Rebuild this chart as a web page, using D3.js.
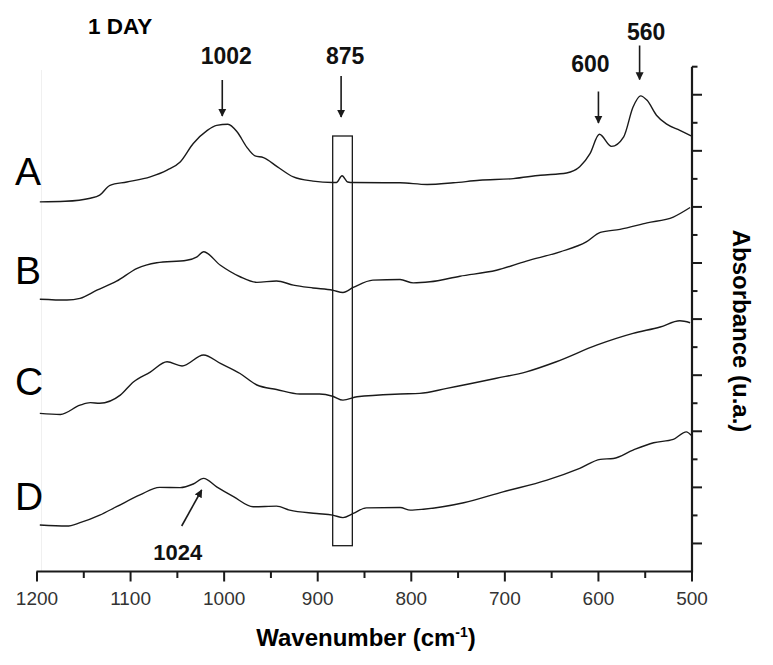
<!DOCTYPE html>
<html>
<head>
<meta charset="utf-8">
<script src="https://cdn.jsdelivr.net/npm/d3@7"></script>
<style>
  html, body { margin: 0; padding: 0; background: #fff; }
  svg { display: block; }
</style>
</head>
<body>
<svg id="chart" width="773" height="665"></svg>
<script>
// ---------- data (wavenumber cm-1, absorbance a.u.) ----------
const seriesNames = ["A", "B", "C", "D"];

const wnA = [1197,1170,1143,1133,1122,1104,1079,1061,1047,1033,1018,1008,996,986,976,967,958,943,926,905,884,880,874,868,862,812,783,755,727,691,662,634,620,609,599,586,573,563,555,548,538,527,513,501];
const absA = [1.318,1.320,1.331,1.342,1.377,1.389,1.407,1.431,1.460,1.526,1.573,1.591,1.595,1.567,1.514,1.482,1.476,1.443,1.407,1.392,1.387,1.387,1.411,1.389,1.387,1.386,1.380,1.386,1.395,1.401,1.413,1.421,1.443,1.490,1.559,1.516,1.550,1.656,1.696,1.680,1.627,1.595,1.573,1.553];

const wnB = [1197,1168,1154,1136,1115,1093,1072,1040,1029,1022,1004,983,965,944,926,905,884,873,862,841,812,798,780,748,709,677,641,613,598,577,548,520,502];
const absB = [0.971,0.968,0.974,1.003,1.035,1.081,1.101,1.110,1.122,1.140,1.092,1.051,1.031,1.036,1.021,1.011,1.003,0.995,1.013,1.039,1.041,1.029,1.033,1.053,1.074,1.107,1.140,1.175,1.209,1.220,1.243,1.264,1.298];

const wnC = [1197,1175,1154,1143,1133,1111,1097,1079,1061,1045,1022,1004,983,965,944,919,898,884,873,858,812,791,762,709,677,645,602,563,534,513,502];
const absC = [0.564,0.560,0.593,0.602,0.600,0.629,0.676,0.711,0.748,0.733,0.772,0.742,0.706,0.665,0.649,0.633,0.633,0.625,0.611,0.623,0.633,0.635,0.653,0.689,0.712,0.748,0.807,0.849,0.872,0.894,0.887];

const wnD = [1197,1168,1154,1133,1115,1090,1069,1047,1033,1022,1008,990,969,944,930,901,884,873,862,848,812,801,787,744,702,655,620,598,584,563,541,520,506,501];
const absD = [0.166,0.162,0.174,0.201,0.231,0.273,0.300,0.299,0.312,0.332,0.302,0.267,0.231,0.233,0.219,0.207,0.201,0.192,0.207,0.227,0.228,0.219,0.222,0.245,0.284,0.326,0.368,0.400,0.403,0.433,0.459,0.471,0.498,0.486];

const xTickLabels = [1200,1100,1000,900,800,700,600,500];
const peakLabels = ["1002","875","600","560"];
const peakPositions = [1002,875,600,556];
const lowerPeakLabel = "1024";
const lowerPeakPosition = 1024;
const boxRange = [884, 863];
const titleText = "1 DAY";
const xTitle = "Wavenumber (cm";
const yTitle = "Absorbance (u.a.)";

// ---------- scales ----------
const svg = d3.select("#chart");
const x = d3.scaleLinear().domain([1200, 500]).range([37, 692]);
const y = d3.scaleLinear().domain([0, 1.8]).range([571.5, 66.7]);

const ink = "#1a1a1a";

// faint left guide
svg.append("line").attr("x1", 41.5).attr("x2", 41.5).attr("y1", 70).attr("y2", 571)
  .attr("stroke", "#f0f0f0").attr("stroke-width", 1);

// ---------- curves ----------
const series = [
  {name: "A", wn: wnA, ab: absA},
  {name: "B", wn: wnB, ab: absB},
  {name: "C", wn: wnC, ab: absC},
  {name: "D", wn: wnD, ab: absD}
];
const line = d3.line().x(d => x(d[0])).y(d => y(d[1])).curve(d3.curveMonotoneX);
series.forEach(s => {
  const pts = s.wn.map((w, i) => [w, s.ab[i]]);
  svg.append("path").datum(pts).attr("d", line)
    .attr("fill", "none").attr("stroke", ink).attr("stroke-width", 1.4)
    .attr("stroke-linejoin", "round");
});

// series letters
const letterY = [185, 284, 395, 509.5];
seriesNames.forEach((n, i) => {
  svg.append("text").text(n).attr("x", 15).attr("y", letterY[i])
    .attr("font-family", "Liberation Sans, Arial, sans-serif")
    .attr("font-size", 39).attr("fill", "#000");
});

// ---------- box around 875 ----------
svg.append("rect")
  .attr("x", x(boxRange[0])).attr("y", 136)
  .attr("width", x(boxRange[1]) - x(boxRange[0])).attr("height", 545.7 - 136)
  .attr("fill", "none").attr("stroke", ink).attr("stroke-width", 1.3);

// ---------- axes ----------
const xAxis = svg.append("g").attr("transform", "translate(0,571.5)");
xAxis.append("line").attr("x1", x(1200) - 0.5).attr("x2", x(500) + 1).attr("stroke", ink).attr("stroke-width", 2.2);
const xMinor = d3.range(1150, 500, -100);
xAxis.selectAll(".maj").data(xTickLabels).join("line")
  .attr("x1", d => x(d)).attr("x2", d => x(d)).attr("y1", 0).attr("y2", 10)
  .attr("stroke", ink).attr("stroke-width", 2);
xAxis.selectAll(".min").data(xMinor).join("line")
  .attr("x1", d => x(d)).attr("x2", d => x(d)).attr("y1", 0).attr("y2", 6.5)
  .attr("stroke", ink).attr("stroke-width", 2);
xAxis.selectAll("text").data(xTickLabels).join("text")
  .attr("x", d => x(d)).attr("y", 33).attr("text-anchor", "middle")
  .attr("font-family", "Liberation Sans, Arial, sans-serif").attr("font-size", 19)
  .attr("fill", "#333").text(d => d);

const yAxis = svg.append("g").attr("transform", "translate(692,0)");
yAxis.append("line").attr("y1", y(1.8)).attr("y2", y(0) + 1).attr("stroke", ink).attr("stroke-width", 2.2);
const yMajor = d3.range(1, 18, 2).map(k => k / 10);
const yMinor = d3.range(2, 19, 2).map(k => k / 10);
yAxis.selectAll(".maj").data(yMajor).join("line")
  .attr("y1", d => y(d)).attr("y2", d => y(d)).attr("x1", 0).attr("x2", 10)
  .attr("stroke", ink).attr("stroke-width", 2);
yAxis.selectAll(".min").data(yMinor).join("line")
  .attr("y1", d => y(d)).attr("y2", d => y(d)).attr("x1", 0).attr("x2", 5.5)
  .attr("stroke", ink).attr("stroke-width", 2);

// axis titles
const xt = svg.append("text").attr("x", 366).attr("y", 645.5).attr("text-anchor", "middle")
  .attr("font-family", "Liberation Sans, Arial, sans-serif").attr("font-size", 24)
  .attr("font-weight", "bold").attr("fill", "#000");
xt.append("tspan").text(xTitle);
xt.append("tspan").text("-1").attr("font-size", 14).attr("dy", -9);
xt.append("tspan").text(")").attr("dy", 9);

svg.append("text").text(yTitle)
  .attr("transform", "translate(733,331) rotate(90)").attr("text-anchor", "middle")
  .attr("font-family", "Liberation Sans, Arial, sans-serif").attr("font-size", 24)
  .attr("font-weight", "bold").attr("fill", "#000");

// title
svg.append("text").text(titleText).attr("x", 88).attr("y", 34)
  .attr("font-family", "Liberation Sans, Arial, sans-serif").attr("font-size", 22.5)
  .attr("font-weight", "bold").attr("fill", "#000");

// ---------- peak annotations ----------
const defs = svg.append("defs");
defs.append("marker").attr("id", "ah").attr("viewBox", "0 0 10 10")
  .attr("refX", 9).attr("refY", 5).attr("markerWidth", 8).attr("markerHeight", 9)
  .attr("markerUnits", "userSpaceOnUse").attr("orient", "auto")
  .append("path").attr("d", "M0,0 L10,5 L0,10 Z").attr("fill", ink);

const labelLayout = [
  {ty: 64, dx: 4, a0: 80, a1: 116},
  {ty: 64, dx: 4, a0: 76, a1: 117},
  {ty: 71.5, dx: -8, a0: 91.5, a1: 123},
  {ty: 40, dx: 6.5, a0: 45.5, a1: 79.5}
];
peakLabels.forEach((lab, i) => {
  const px = x(peakPositions[i]);
  const L = labelLayout[i];
  svg.append("text").text(lab).attr("x", px + L.dx).attr("y", L.ty)
    .attr("text-anchor", "middle").attr("font-family", "Liberation Sans, Arial, sans-serif")
    .attr("font-size", 23).attr("font-weight", "bold").attr("fill", "#111");
  svg.append("line").attr("x1", px).attr("x2", px).attr("y1", L.a0).attr("y2", L.a1)
    .attr("stroke", ink).attr("stroke-width", 1.6).attr("marker-end", "url(#ah)");
});

const lp = x(lowerPeakPosition);
svg.append("text").text(lowerPeakLabel).attr("x", lp - 24).attr("y", 560)
  .attr("text-anchor", "middle").attr("font-family", "Liberation Sans, Arial, sans-serif")
  .attr("font-size", 22).attr("font-weight", "bold").attr("fill", "#111");
svg.append("line").attr("x1", lp - 20).attr("y1", 526).attr("x2", lp).attr("y2", 490)
  .attr("stroke", ink).attr("stroke-width", 1.6).attr("marker-end", "url(#ah)");
</script>
</body>
</html>
